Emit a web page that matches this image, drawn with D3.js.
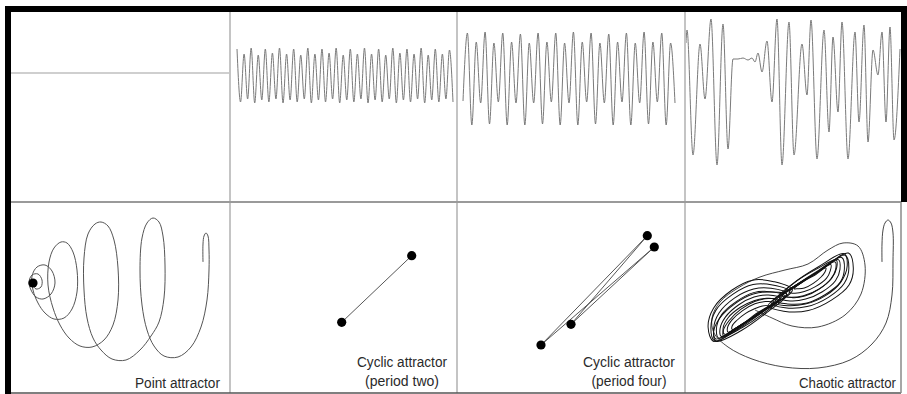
<!DOCTYPE html>
<html>
<head>
<meta charset="utf-8">
<script src="https://cdn.jsdelivr.net/npm/d3@7"></script>
<style>
  html, body { margin: 0; padding: 0; background: #fff; }
  svg { display: block; }
</style>
</head>
<body>
<div id="chart"></div>
<script>
// ---- top row: time series (value relative to the resting level, up = positive)
const pointSeries = [0, 0, 0, 0, 0, 0, 0, 0];

const period2Peaks = [24, 19, 25, 18, 24, 20, 25, 19, 24, 18, 25, 19, 24, 20, 25, 18,
  24, 19, 25, 19, 24, 18, 25, 20, 24, 19, 25, 18, 24, 19, 23];
const period2Troughs = [-29, -26, -30, -27, -29, -26, -30, -27, -29, -26, -30, -27, -29, -26, -30, -27,
  -29, -26, -30, -27, -29, -26, -30, -27, -29, -26, -30, -27, -29, -26, -29];

const period4Series = [-28,
  40, -52, 31, -30, 41, -51, 30, -29, 40, -52, 31, -30, 39, -52, 30, -30,
  40, -51, 31, -29, 40, -52, 30, -30, 41, -52, 31, -29, 40, -51, 30, -30,
  39, -52, 31, -29, 40, -52, 30, -30, 41, -51, 31, -29, 40, -52, 30, -30];

// [time, value]
const chaoticSeries = [[1, 30], [2, 43], [8, -82], [15, 29], [20, -26], [26, 54], [32, -92], [38, 49],
  [43, -76], [48, 14], [53, 14], [58, 15], [63, 13], [67, 15], [70, 11], [73, 20], [77, 1], [82, 32],
  [87, -29], [92, 54], [97, -92], [104, 51], [109, -82], [117, 29], [122, -22], [126, 53], [132, -86],
  [139, 43], [144, -59], [148, 36], [153, -39], [157, 51], [163, -86], [170, 41], [174, -49], [179, 48],
  [183, -69], [188, 23], [193, -2], [197, 41], [201, -49], [205, 46], [209, -67], [215, 24]];

// ---- bottom row: phase portraits [x, y]
const pointPath = [[192, 131], [192, 149], [193, 157], [195, 160], [197, 157], [198, 143], [198, 123],
  [196, 93], [190, 66], [180, 46], [167, 36], [153, 37], [143, 47],
  [136, 63], [131, 88], [129, 123], [131, 155], [136, 170], [142, 175], [148, 171], [152, 157],
  [154, 128], [153, 95], [148, 71], [140, 57],
  [129, 43], [115, 33], [101, 34], [90, 43], [82, 55],
  [76, 75], [73, 103], [73, 135], [77, 159], [84, 169], [90, 171], [97, 167], [103, 153], [107, 125],
  [107, 93], [102, 68], [93, 53],
  [81, 46], [69, 47], [58, 55], [49, 68],
  [42, 85], [37, 108], [38, 131], [43, 145], [50, 151], [56, 150], [62, 141], [66, 123], [66, 101],
  [61, 84], [53, 75],
  [43, 74], [34, 80], [27, 90],
  [22, 103], [21, 117], [26, 126], [34, 128], [41, 122], [44, 110], [40, 99], [32, 94], [25, 96],
  [20, 103], [18, 111], [21, 118], [27, 119], [31, 113], [30, 106], [25, 104], [22, 108], [22, 110]];
const pointRest = [[22, 110]];

const period2Points = [[111.7, 70.7], [181.7, 137.3]];
const period4Points = [[84, 48], [190.3, 157.3], [114, 68.7], [197.3, 146]];

// transient of the chaotic orbit, panel coordinates
const chaoticPath = [[197, 131], [197, 149], [198, 163], [200, 170], [203, 173], [206, 170], [208, 160],
  [208, 133], [207, 98], [201, 70], [187, 49], [165, 33], [133, 25], [99, 26], [67, 34], [43, 46],
  [29, 60], [27, 75], [35, 91], [53, 105], [75, 116], [100, 123], [123, 129], [143, 143], [158, 150],
  [173, 147], [180, 128], [176, 99], [160, 78], [133, 66], [107, 67], [87, 75], [70, 83]];

// settled loops of the chaotic orbit, in band coordinates [along, across]
const chaoticLoops = [
  [[1, 0], [30, -3], [62, -2], [95, 0], [84, 17], [67, 30], [44, 33], [19, 28], [4, 15]],
  [[2, 0], [29, -2], [60, -1], [92, 0], [81, 15], [65, 26], [43, 29], [20, 25], [6, 13]],
  [[3, -1], [30, -6], [60, -5], [88, -1], [76, 10], [60, 18], [40, 20], [18, 16], [6, 8]],
  [[4, 1], [29, -1], [58, -2], [88, 0], [78, 13], [63, 22], [42, 25], [21, 21], [8, 11]],
  [[7, 0], [30, -2], [57, -1], [84, 1], [75, 11], [61, 19], [42, 21], [22, 18], [10, 9]],
  [[10, 0], [31, -1], [55, -2], [80, 0], [72, 9], [59, 15], [42, 17], [24, 14], [13, 7]],
  [[12, -1], [32, -4], [55, -4], [78, -1], [70, 6], [57, 11], [41, 12], [25, 9], [15, 4]],
  [[14, 0], [33, -1], [54, -1], [76, 1], [69, 7], [57, 12], [42, 14], [26, 12], [16, 6]],
  [[18, 0], [34, -1], [53, -1], [72, 0], [66, 5], [56, 9], [42, 10], [28, 8], [20, 4]],
  [[23, 0], [36, -1], [51, 0], [66, 0], [61, 3], [53, 5], [43, 6], [32, 5], [25, 3]],
  [[66, 0], [96, 2], [128, 1], [162, 0], [158, -15], [145, -27], [122, -30], [97, -26], [76, -13]],
  [[70, 1], [98, 2], [128, 1], [158, 0], [154, -13], [142, -23], [121, -26], [98, -22], [79, -11]],
  [[72, 0], [100, 5], [130, 5], [158, 2], [154, -10], [140, -20], [120, -23], [98, -19], [80, -9]],
  [[75, 0], [101, 2], [128, 2], [154, 0], [150, -11], [139, -20], [120, -22], [100, -19], [83, -9]],
  [[80, 0], [103, 1], [127, 1], [150, 0], [146, -9], [136, -16], [119, -18], [101, -15], [87, -8]],
  [[83, 1], [104, 5], [127, 4], [148, 1], [144, -6], [134, -12], [118, -14], [101, -11], [89, -5]],
  [[85, 1], [105, 2], [126, 1], [146, 0], [142, -7], [133, -12], [117, -14], [102, -12], [90, -6]],
  [[91, 0], [108, 1], [125, 1], [141, 0], [137, -5], [130, -9], [116, -10], [104, -8], [95, -4]],
  [[97, 0], [110, 1], [123, 0], [135, 0], [132, -3], [126, -5], [116, -6], [106, -5], [100, -2]]
];

const labelLines = [
  ["Point attractor"],
  ["Cyclic attractor", "(period two)"],
  ["Cyclic attractor", "(period four)"],
  ["Chaotic attractor"]
];

// ---- layout
const width = 907, height = 394;
const cols = [11, 230, 457, 685, 901];
const rowTop = 12, rowMid = 202, rowBottom = 393;

const svg = d3.select('#chart')
  .append('svg')
  .attr('width', width)
  .attr('height', height)
  .style('font-family', '"Liberation Sans", Arial, sans-serif');

svg.append('rect').attr('width', width).attr('height', height).attr('fill', '#fff');

// top row shares one value scale
const yTop = d3.scaleLinear().domain([-129, 61]).range([rowMid, rowTop]);

function seriesLine(x) {
  return d3.line()
    .x(d => x(d[0]))
    .y(d => yTop(d[1]))
    .curve(d3.curveMonotoneX);
}

function drawSeries(x, data, stroke, sw) {
  svg.append('path')
    .attr('d', seriesLine(x)(data))
    .attr('fill', 'none')
    .attr('stroke', stroke)
    .attr('stroke-width', sw);
}

// panel 1: resting level
const x1 = d3.scaleLinear().domain([0, pointSeries.length - 1]).range([cols[0], cols[1]]);
drawSeries(x1, pointSeries.map((v, i) => [i, v]), '#cfcfcf', 2);

// panel 2: period two
const p2 = [];
period2Peaks.forEach((v, i) => { p2.push(v); p2.push(period2Troughs[i]); });
const x2 = d3.scaleLinear().domain([0, p2.length - 1]).range([237, 453]);
drawSeries(x2, p2.map((v, i) => [i, v]), '#7a7a7a', 1);

// panel 3: period four
const x3 = d3.scaleLinear().domain([0, period4Series.length - 1]).range([463, 675]);
drawSeries(x3, period4Series.map((v, i) => [i, v]), '#7a7a7a', 1);

// panel 4: chaotic
const x4 = d3.scaleLinear().domain([0, 216]).range([cols[3], cols[4]]);
drawSeries(x4, chaoticSeries, '#7a7a7a', 1);

// bottom row: one pair of scales per panel
function phaseScales(i) {
  const x = d3.scaleLinear().domain([0, cols[i + 1] - cols[i]]).range([cols[i], cols[i + 1]]);
  const y = d3.scaleLinear().domain([0, rowBottom - rowMid]).range([rowBottom, rowMid]);
  return { x, y };
}

function drawPhase(i, pts, curve, stroke, sw) {
  const s = phaseScales(i);
  svg.append('path')
    .attr('d', d3.line().x(d => s.x(d[0])).y(d => s.y(d[1])).curve(curve)(pts))
    .attr('fill', 'none')
    .attr('stroke', stroke)
    .attr('stroke-width', sw);
}

function drawDots(i, pts) {
  const s = phaseScales(i);
  svg.append('g').selectAll('circle')
    .data(pts)
    .enter()
    .append('circle')
    .attr('cx', d => s.x(d[0]))
    .attr('cy', d => s.y(d[1]))
    .attr('r', 4.6)
    .attr('fill', '#000');
}

drawPhase(0, pointPath, d3.curveCatmullRom.alpha(0.5), '#555', 1);
drawDots(0, pointRest);

drawPhase(1, period2Points, d3.curveLinear, '#444', 0.9);
drawDots(1, period2Points);

drawPhase(2, period4Points.concat([period4Points[0]]), d3.curveLinear, '#444', 0.9);
drawDots(2, period4Points);

drawPhase(3, chaoticPath, d3.curveCatmullRom.alpha(0.5), '#333', 0.9);

// the settled band runs on a tilted axis from its lower-left tip
const band = svg.append('g').attr('transform', 'translate(713,342) rotate(-33.3)');
const tScale = d3.scaleLinear().domain([0, 164]).range([0, 164]);
const hScale = d3.scaleLinear().domain([-40, 40]).range([40, -40]);
const loopLine = d3.line()
  .x(d => tScale(d[0]))
  .y(d => hScale(d[1]))
  .curve(d3.curveCatmullRomClosed.alpha(0.5));
band.selectAll('path')
  .data(chaoticLoops)
  .enter()
  .append('path')
  .attr('d', loopLine)
  .attr('fill', 'none')
  .attr('stroke', '#111')
  .attr('stroke-width', 1);

// grid lines
const grid = svg.append('g');
[cols[1], cols[2], cols[3]].forEach(x => {
  grid.append('line')
    .attr('x1', x).attr('x2', x)
    .attr('y1', rowTop).attr('y2', rowBottom)
    .attr('stroke', '#c4c4c4').attr('stroke-width', 2);
});
grid.append('line')
  .attr('x1', cols[0]).attr('x2', cols[4])
  .attr('y1', rowMid).attr('y2', rowMid)
  .attr('stroke', '#9a9a9a').attr('stroke-width', 2);
grid.append('line')
  .attr('x1', cols[0]).attr('x2', cols[4])
  .attr('y1', rowBottom).attr('y2', rowBottom)
  .attr('stroke', '#555').attr('stroke-width', 1.5);
grid.append('line')
  .attr('x1', cols[4]).attr('x2', cols[4])
  .attr('y1', rowMid).attr('y2', rowBottom)
  .attr('stroke', '#8a8a8a').attr('stroke-width', 1.5);

// heavy frame: top edge, left edge, right edge of the upper row
grid.append('rect').attr('x', 5).attr('y', 6).attr('width', 902).attr('height', 6).attr('fill', '#000');
grid.append('rect').attr('x', 5).attr('y', 6).attr('width', 6).attr('height', 388).attr('fill', '#000');
grid.append('rect').attr('x', 901).attr('y', 6).attr('width', 6).attr('height', rowMid - 6).attr('fill', '#000');

// labels: squeezed slightly to the measured widths
const labelPos = [
  { x: 220, anchor: 'end', y: [388], w: [85] },
  { x: 402, anchor: 'middle', y: [367, 386], w: [90, 74] },
  { x: 629, anchor: 'middle', y: [367, 386], w: [92, 75] },
  { x: 896, anchor: 'end', y: [388], w: [97] }
];
labelLines.forEach((lines, i) => {
  lines.forEach((t, j) => {
    svg.append('text')
      .attr('x', labelPos[i].x)
      .attr('y', labelPos[i].y[j])
      .attr('text-anchor', labelPos[i].anchor)
      .attr('font-size', 14)
      .attr('textLength', labelPos[i].w[j])
      .attr('lengthAdjust', 'spacingAndGlyphs')
      .attr('fill', '#2a2a2a')
      .text(t);
  });
});
</script>
</body>
</html>
